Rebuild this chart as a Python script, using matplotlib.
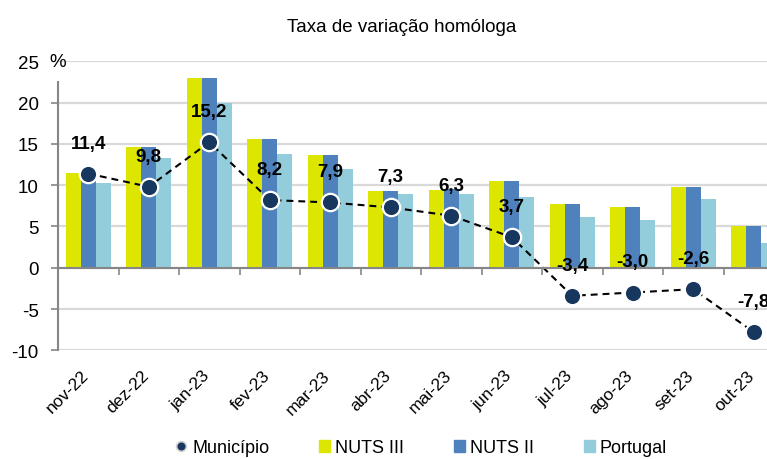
import matplotlib
matplotlib.use("Agg")
import matplotlib.pyplot as plt
import matplotlib.transforms as mtransforms
from matplotlib.lines import Line2D
from matplotlib.patches import Patch
import numpy as np

plt.rcParams['font.family'] = ['Liberation Sans', 'DejaVu Sans']

categories = ["nov-22", "dez-22", "jan-23", "fev-23", "mar-23", "abr-23",
              "mai-23", "jun-23", "jul-23", "ago-23", "set-23", "out-23"]
municipio = [11.4, 9.8, 15.2, 8.2, 7.9, 7.3, 6.3, 3.7, -3.4, -3.0, -2.6, -7.8]
municipio_labels = ["11,4", "9,8", "15,2", "8,2", "7,9", "7,3", "6,3", "3,7",
                    "-3,4", "-3,0", "-2,6", "-7,8"]
nuts3 = [11.5, 14.6, 23.0, 15.6, 13.7, 9.3, 9.4, 10.5, 7.7, 7.3, 9.8, 5.0]
nuts2 = [11.5, 14.6, 23.0, 15.6, 13.7, 9.3, 9.5, 10.5, 7.7, 7.3, 9.8, 5.0]
portugal = [10.3, 13.3, 20.0, 13.8, 11.9, 8.9, 8.9, 8.6, 6.2, 5.8, 8.3, 3.0]
yticks = [-10, -5, 0, 5, 10, 15, 20, 25]

title = "Taxa de variação homóloga"
series_names = ["Município", "NUTS III", "NUTS II", "Portugal"]

c_nuts3 = "#DCE600"
c_nuts2 = "#4F81BD"
c_port = "#93CDDC"
c_mun = "#17375E"
grid_c = "#D9D9D9"
axis_c = "#868686"

W, H = 767, 460
fig = plt.figure(figsize=(W / 100, H / 100), dpi=100)
left_px, right_px, top_px, bot_px = 58, 784, 62.3, 351.3
ax = fig.add_axes([left_px / W, 1 - bot_px / H, (right_px - left_px) / W,
                   (bot_px - top_px) / H])

x = np.arange(len(categories))
bw = 0.25
ax.bar(x - bw, nuts3, bw, color=c_nuts3, zorder=2)
ax.bar(x, nuts2, bw, color=c_nuts2, zorder=2)
ax.bar(x + bw, portugal, bw, color=c_port, zorder=2)

line, = ax.plot(x, municipio, color="black", lw=1.5, zorder=3)
line.set_dashes((3.3, 2.4))
ax.plot(x, municipio, ls="none", marker="o", ms=12.5, mfc=c_mun, mec="white",
        mew=1.6, zorder=4)

for xi, v, lab in zip(x, municipio, municipio_labels):
    ax.annotate(lab, (xi, v), xytext=(0, 22), textcoords="offset points",
                ha="center", va="center", fontsize=13.5, fontweight="bold",
                color="black", zorder=5, annotation_clip=False)

ax.set_xlim(-0.5, len(categories) - 0.5)
ax.set_ylim(-10, 25)
ax.set_yticks(yticks)
ax.set_yticklabels([str(t) for t in yticks], fontsize=13.5)
ax.yaxis.grid(True, color=grid_c, lw=1.6, zorder=0)
ax.set_axisbelow(True)
ax.tick_params(axis="y", direction="out", length=5, width=1.2, color=axis_c,
               pad=9)
ax.yaxis.get_major_ticks()[-1].tick1line.set_visible(False)

for s in ["top", "right"]:
    ax.spines[s].set_visible(False)
ax.spines["left"].set_color(axis_c)
ax.spines["left"].set_linewidth(1.5)
ax.spines["left"].set_bounds(-10, 22.45)
ax.spines["bottom"].set_position(("data", 0))
ax.spines["bottom"].set_color(axis_c)
ax.spines["bottom"].set_linewidth(1.5)
ax.spines["bottom"].set_zorder(3)

ax.set_xticks(x)
ax.set_xticklabels([])
ax.tick_params(axis="x", which="major", length=0)
ax.set_xticks(x[:-1] + 0.5, minor=True)
ax.tick_params(axis="x", which="minor", direction="out", length=5, width=1.2,
               color=axis_c)

trans = mtransforms.blended_transform_factory(ax.transData, ax.transAxes) + \
    mtransforms.ScaledTranslation(3 / 100, -17 / 100, fig.dpi_scale_trans)
for xi, cat in zip(x, categories):
    ax.text(xi, 0, cat, transform=trans, rotation=45, ha="right", va="top",
            fontsize=12.5, color="black", clip_on=False)

ax.text(-0.001, 25, "%", transform=mtransforms.blended_transform_factory(
    ax.transAxes, ax.transData), ha="center", va="center", fontsize=13.5)

fig.text(402 / W, 1 - 28 / H, title, ha="center", va="center", fontsize=13.5)

handles = [
    Line2D([], [], ls="none", marker="o", ms=7, mfc=c_mun, mec="#D0D0D0",
           mew=1.2),
    Patch(color=c_nuts3),
    Patch(color=c_nuts2),
    Patch(color=c_port),
]
fig.legend(handles, series_names, loc="center", bbox_to_anchor=(421.5 / W, 1 - 449 / H),
           ncol=4, frameon=False, fontsize=13, handlelength=0.6,
           handleheight=0.6, handletextpad=0.3, columnspacing=2.75)

fig.savefig("out.png", dpi=100)
